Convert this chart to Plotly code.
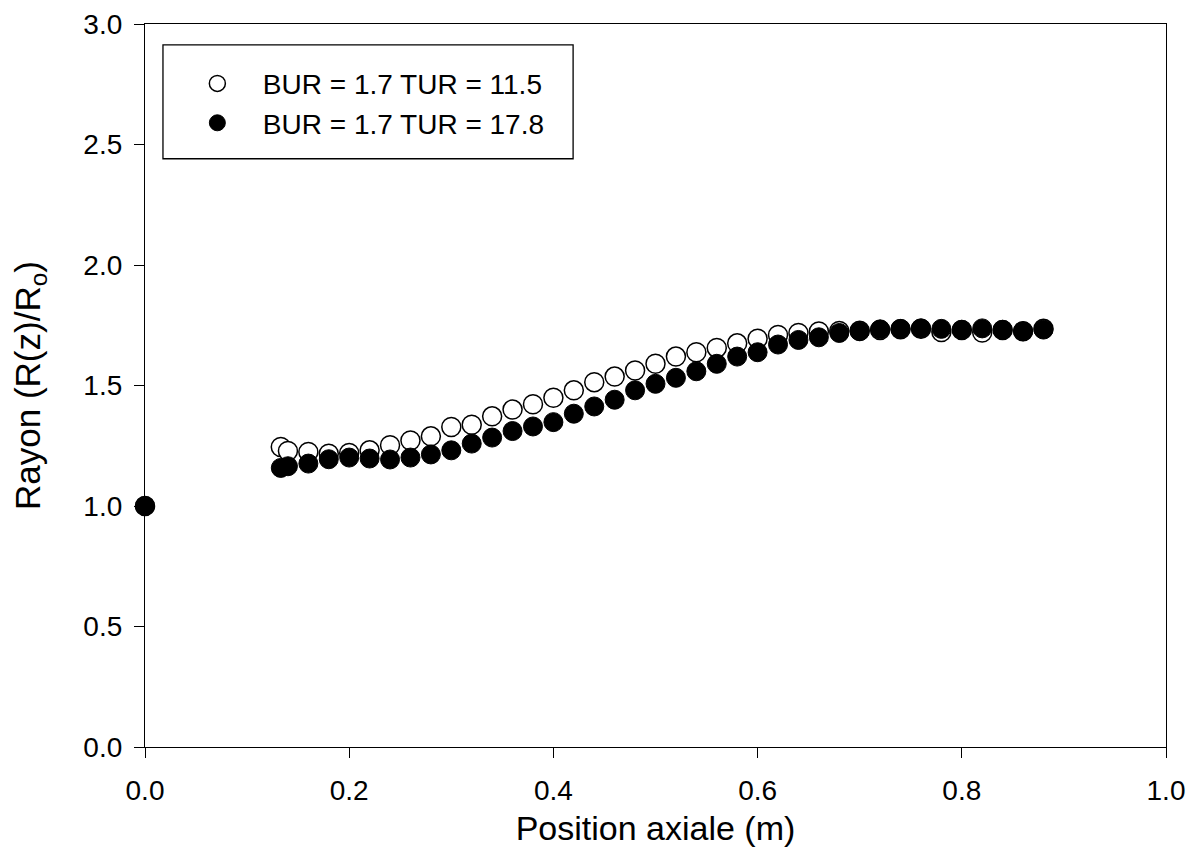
import plotly.graph_objects as go

x_pos = [0.0, 0.133, 0.14, 0.16, 0.18, 0.20, 0.22, 0.24, 0.26, 0.28, 0.30, 0.32, 0.34, 0.36,
         0.38, 0.40, 0.42, 0.44, 0.46, 0.48, 0.50, 0.52, 0.54, 0.56, 0.58, 0.60, 0.62, 0.64,
         0.66, 0.68, 0.70, 0.72, 0.74, 0.76, 0.78, 0.80, 0.82, 0.84, 0.86, 0.88]

r_tur_11_5 = [1.0, 1.245, 1.228, 1.224, 1.217, 1.220, 1.231, 1.252, 1.272, 1.289, 1.328, 1.337,
              1.372, 1.400, 1.422, 1.449, 1.480, 1.514, 1.537, 1.562, 1.590, 1.620, 1.638, 1.656,
              1.675, 1.694, 1.710, 1.718, 1.724, 1.726, 1.727, 1.730, 1.733, 1.735, 1.722, 1.730,
              1.720, 1.730, 1.725, 1.735]

r_tur_17_8 = [1.0, 1.158, 1.165, 1.176, 1.194, 1.201, 1.197, 1.193, 1.201, 1.214, 1.231, 1.259,
              1.284, 1.311, 1.330, 1.348, 1.383, 1.413, 1.441, 1.480, 1.507, 1.532, 1.559, 1.590,
              1.620, 1.638, 1.670, 1.689, 1.700, 1.718, 1.725, 1.733, 1.735, 1.737, 1.735, 1.731,
              1.737, 1.731, 1.725, 1.732]

series_names = ["BUR = 1.7 TUR = 11.5", "BUR = 1.7 TUR = 17.8"]

FONT = "Liberation Sans, Arial, sans-serif"

fig = go.Figure()
fig.add_trace(go.Scatter(
    x=x_pos, y=r_tur_11_5, mode="markers", name=series_names[0], cliponaxis=False,
    marker=dict(symbol="circle", size=19, color="white", line=dict(color="black", width=1.5)),
))
fig.add_trace(go.Scatter(
    x=x_pos, y=r_tur_17_8, mode="markers", name=series_names[1], cliponaxis=False,
    marker=dict(symbol="circle", size=19, color="black", line=dict(color="black", width=1)),
))

axis_common = dict(
    showgrid=False, zeroline=False, showline=True, linecolor="black", linewidth=1.3,
    mirror=True, ticks="outside", ticklen=10, tickwidth=1.3, tickcolor="black",
    tickfont=dict(family=FONT, size=28, color="black"), tickformat=".1f",
)

fig.update_xaxes(range=[0, 1], dtick=0.2, tick0=0, ticklabelstandoff=8, **axis_common,
                 title=dict(text="Position axiale (m)", font=dict(family=FONT, size=34, color="black"),
                            standoff=11))
fig.update_yaxes(range=[0, 3], dtick=0.5, tick0=0, ticklabelstandoff=6, **axis_common,
                 title=dict(text="Rayon (R(z)/R<sub>o</sub>)", font=dict(family=FONT, size=35, color="black"),
                            standoff=33))

fig.add_shape(type="rect", xref="paper", yref="paper",
              x0=0.0176, x1=0.4193, y0=0.8136, y1=0.9710,
              line=dict(color="black", width=1.3), fillcolor="rgba(0,0,0,0)")

fig.update_layout(
    width=1187, height=840,
    margin=dict(l=137, r=29, t=16, b=101, autoexpand=False),
    paper_bgcolor="white", plot_bgcolor="white",
    font=dict(family=FONT, color="black"),
    showlegend=True,
    legend=dict(x=0.0263, y=0.952, xanchor="left", yanchor="top",
                bgcolor="rgba(0,0,0,0)", borderwidth=0,
                font=dict(family=FONT, size=28, color="black"),
                itemwidth=81, tracegroupgap=0),
)

fig.write_html("out.html")
